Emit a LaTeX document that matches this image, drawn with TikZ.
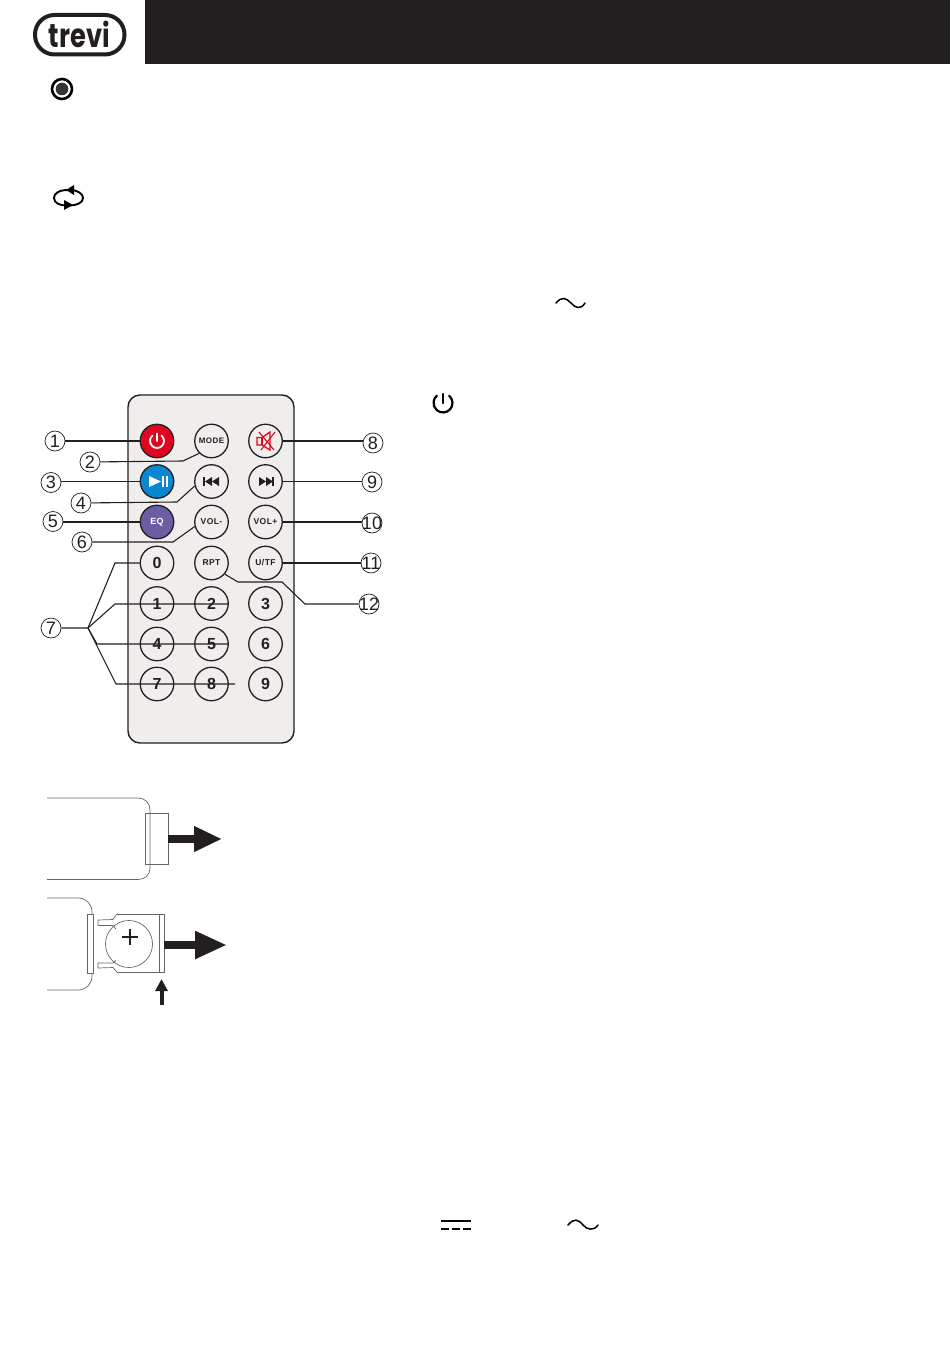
\documentclass[tikz,border=0pt]{standalone}
\usepackage{fontspec}
\setmainfont{Liberation Sans}
\newfontfamily\logofont{Poppins}
\usetikzlibrary{arrows.meta}
\usetikzlibrary{calc}
\definecolor{headblack}{HTML}{231F20}
\definecolor{bodygray}{HTML}{F0EEEC}
\definecolor{pwrred}{HTML}{E0061F}
\definecolor{playblue}{HTML}{0A88CF}
\definecolor{eqviolet}{HTML}{6C5CA3}
\definecolor{partgray}{HTML}{666666}
\newcommand{\callnum}[1]{\makebox[0pt]{#1}}
\tikzset{
	btn/.style={circle,draw=headblack,line width=1.3pt,fill=bodygray,minimum size=33.5pt,inner sep=0pt,text=headblack},
	digitbtn/.style={btn,font=\fontsize{16}{16}\selectfont\bfseries},
	wordbtn/.style={btn,font=\fontsize{8.5}{9}\selectfont\bfseries\addfontfeature{LetterSpace=5}},
	callout/.style={circle,draw=headblack,line width=0.7pt,minimum size=20pt,inner sep=0pt,text=headblack,font=\fontsize{18}{18}\selectfont},
	lead/.style={headblack,line width=1.1pt},
	part/.style={partgray,line width=0.7pt},
	blockarrow/.style={headblack,line width=8pt,-{Triangle[length=28pt,width=24pt]}},
	symbolline/.style={black,line width=1.5pt,line cap=round},
}
\begin{document}
\begin{tikzpicture}[x=1pt,y=-1pt]
	\useasboundingbox (0,0) rectangle (950,1348);
	\fill [headblack] (145,0) rectangle (950,64);
	\draw [headblack,line width=4pt,rounded corners=19.5pt] (35,15) rectangle (124.5,54.5);
	\node (logotext) at (79.5,34) [xscale=0.78,text=headblack,inner sep=0pt,font=\fontsize{33}{33}\selectfont\logofont\bfseries] {trevi};

	\filldraw [black,line width=2.6pt,fill=white] (62,89) circle (10);
	\fill [headblack!90] (62,89) circle (6.3);
	\draw [black,line width=1.9pt] (68,190) .. controls (58,190) and (54,194) .. (54,198) .. controls (54,203) and (60,205.5) .. (66,205.5);
	\draw [black,line width=1.9pt] (70,190) .. controls (78,190) and (83,194) .. (83,198) .. controls (83,203) and (76,205.5) .. (70,205.5);
	\fill [black] (66,190) -- (74,185) -- (74,195) -- cycle;
	\fill [black] (73,205) -- (64,200) -- (64,210) -- cycle;

	\draw [symbolline] (556,303) .. controls (562,296) and (566,298) .. (571,303) .. controls (575,308) and (581,310) .. (585,303);
	\draw [symbolline,line width=2.2pt] (449.1,395.7) arc (-50:230:9.5);
	\draw [symbolline,line width=2.4pt] (443,394) -- (443,403);

	\draw [symbolline,line cap=butt,line width=2pt] (441,1221) -- (471,1221);
	\draw [symbolline,line cap=butt,line width=2pt] (441,1229) -- (449,1229);
	\draw [symbolline,line cap=butt,line width=2pt] (452,1229) -- (460,1229);
	\draw [symbolline,line cap=butt,line width=2pt] (463,1229) -- (471,1229);
	\draw [symbolline] (568,1225) .. controls (574,1218) and (578,1219) .. (583,1225) .. controls (587,1230) and (594,1231) .. (598,1225);

	\filldraw [draw=headblack,line width=1.4pt,fill=bodygray,rounded corners=12pt] (128,395) rectangle (294,743);

	\node (btnpower) at (157,441) [btn,fill=pwrred] {};
	\node (btnmode) at (211.5,441) [wordbtn] {\fontsize{8}{9}\selectfont MODE};
	\node (btnmute) at (265.5,441) [btn] {};
	\node (btnplay) at (157,481.5) [btn,fill=playblue] {};
	\node (btnprev) at (211.5,481.5) [btn] {};
	\node (btnnext) at (265.5,481.5) [btn] {};
	\node (btneq) at (157,522) [wordbtn,fill=eqviolet,text=white] {\fontsize{9}{9}\selectfont EQ};
	\node (btnvolm) at (211.5,522) [wordbtn] {VOL-};
	\node (btnvolp) at (265.5,522) [wordbtn] {VOL+};
	\node (btnzero) at (157,563) [digitbtn] {0};
	\node (btnrpt) at (211.5,563) [wordbtn] {RPT};
	\node (btnutf) at (265.5,563) [wordbtn] {U/TF};
	\node (btnone) at (157,603.5) [digitbtn] {1};
	\node (btntwo) at (211.5,603.5) [digitbtn] {2};
	\node (btnthree) at (265.5,603.5) [digitbtn] {3};
	\node (btnfour) at (157,644) [digitbtn] {4};
	\node (btnfive) at (211.5,644) [digitbtn] {5};
	\node (btnsix) at (265.5,644) [digitbtn] {6};
	\node (btnseven) at (157,684) [digitbtn] {7};
	\node (btneight) at (211.5,684) [digitbtn] {8};
	\node (btnnine) at (265.5,684) [digitbtn] {9};

	\draw [white,line width=1.8pt,line cap=round] (161.5,435.6) arc (-50:230:7);
	\draw [white,line width=1.8pt,line cap=round] (157,433.5) -- (157,441);
	\fill [white] (149,476) -- (161,481.5) -- (149,487) -- cycle;
	\fill [white] (162,476) rectangle (164,487);
	\fill [white] (165.5,476) rectangle (167.5,487);
	\fill [headblack] (203,477) rectangle (205,486);
	\fill [headblack] (212,477) -- (205,481.5) -- (212,486) -- cycle;
	\fill [headblack] (219,477) -- (212,481.5) -- (219,486) -- cycle;
	\fill [headblack] (259,477) -- (266,481.5) -- (259,486) -- cycle;
	\fill [headblack] (266,477) -- (273,481.5) -- (266,486) -- cycle;
	\fill [headblack] (272,477) rectangle (274,486);
	\draw [pwrred,line width=1.3pt] (257,437.5) -- (262,437.5) -- (270,432) -- (270,450) -- (262,445) -- (257,445) -- cycle;
	\draw [pwrred,line width=1.3pt] (262,437.5) -- (262,445);
	\draw [pwrred,line width=1.1pt] (259,432) -- (274,450);
	\draw [pwrred,line width=1.1pt] (275,432) -- (261,450);

	\node (callone) at (55,441) [callout] {\callnum{1}};
	\node (calltwo) at (90,462) [callout] {\callnum{2}};
	\node (callthree) at (51,482.5) [callout] {\callnum{3}};
	\node (callfour) at (81,503) [callout] {\callnum{4}};
	\node (callfive) at (53,521.5) [callout] {\callnum{5}};
	\node (callsix) at (82,542) [callout] {\callnum{6}};
	\node (callseven) at (51,628) [callout] {\callnum{7}};
	\node (calleight) at (373,443) [callout] {\callnum{8}};
	\node (callnine) at (372,482) [callout] {\callnum{9}};
	\node (callten) at (372,523) [callout] {\callnum{10}};
	\node (calleleven) at (371,563) [callout] {\callnum{11}};
	\node (calltwelve) at (369,604) [callout] {\callnum{12}};

	\coordinate (bendtwo) at (183,461);
	\coordinate (bendfour) at (177,502);
	\coordinate (bendsix) at (173,542);
	\coordinate (bendrpt) at (238,582);
	\coordinate (bendrptb) at (282,582);
	\coordinate (bendrptc) at (305,604);
	\coordinate (forkseven) at (88,628);
	\coordinate (bendzero) at (115,563);
	\coordinate (bendone) at (115,604);
	\coordinate (endone) at (228,604);
	\coordinate (bendfour2) at (97,644);
	\coordinate (endfour) at (228,644);
	\coordinate (bendseven) at (116,684);
	\coordinate (endseven) at (235,684);

	\draw [lead] (callone) -- (btnpower);
	\draw [lead] (calltwo) -- (bendtwo) -- (btnmode.south west);
	\draw [lead] (callthree.east |- btnplay) -- (btnplay);
	\draw [lead] (callfour) -- (bendfour) -- (btnprev.195);
	\draw [lead] (callfive.east |- btneq) -- (btneq);
	\draw [lead] (callsix) -- (bendsix) -- (btnvolm.195);
	\draw [lead] (btnmute) -- (calleight.west |- btnmute);
	\draw [lead] (btnnext) -- (callnine.west |- btnnext);
	\draw [lead] (btnvolp) -- (callten.west |- btnvolp);
	\draw [lead] (btnutf) -- (calleleven);
	\draw [lead] (btnrpt.-40) -- (bendrpt) -- (bendrptb) -- (bendrptc) -- (calltwelve);
	\draw [lead] (callseven) -- (forkseven) -- (bendzero) -- (btnzero);
	\draw [lead] (forkseven) -- (bendone) -- (endone);
	\draw [lead] (forkseven) -- (bendfour2) -- (endfour);
	\draw [lead] (forkseven) -- (bendseven) -- (endseven);

	\draw [part] (47,798) -- (138,798) .. controls (145,798) and (150,803) .. (150,810) -- (150,868) .. controls (150,875) and (145,879.5) .. (138,879.5) -- (47,879.5);
	\node (tabtop) at (156.5,838.5) [draw=partgray,line width=0.7pt,minimum width=23pt,minimum height=51pt,inner sep=0pt] {};
	\coordinate (tiptop) at (222,839);
	\draw [blockarrow] (tabtop.east |- tiptop) -- (tiptop);

	\draw [part] (47,898) -- (78,898) .. controls (86,898) and (92,904) .. (92,912) -- (92,976) .. controls (92,984) and (86,990) .. (78,990) -- (47,990);
	\filldraw [draw=partgray,line width=0.7pt,fill=white] (87,914) rectangle (93,973);
	\draw [part] (117,914) -- (164,914) -- (164,972) -- (117,972);
	\draw [part] (159,914) -- (159,972);
	\draw [part] (117,914) .. controls (115,916) and (114,918) .. (113,919.5) -- (98,920) -- (98,925.5) -- (113,925.5) -- (116,929);
	\draw [part] (117,972) .. controls (115,970) and (114,969) .. (113,967.5) -- (98,968) -- (98,963) -- (113,963) -- (116,960);
	\node (battery) at (129,944) [circle,draw=partgray,line width=0.7pt,minimum size=47pt,inner sep=0pt] {};
	\draw [headblack,line width=2.2pt] (122,937) -- (138,937);
	\draw [headblack,line width=2.2pt] (130,929) -- (130,945);
	\coordinate (holderedge) at (164,945);
	\coordinate (tipholder) at (227,945);
	\draw [blockarrow,-{Triangle[length=32pt,width=26pt]}] (holderedge) -- (tipholder);
	\coordinate (pushtail) at (161.5,1005);
	\coordinate (pushtip) at (161.5,979);
	\draw [headblack,line width=4pt,-{Triangle[length=12pt,width=12pt]}] (pushtail) -- (pushtip);
\end{tikzpicture}
\end{document}
